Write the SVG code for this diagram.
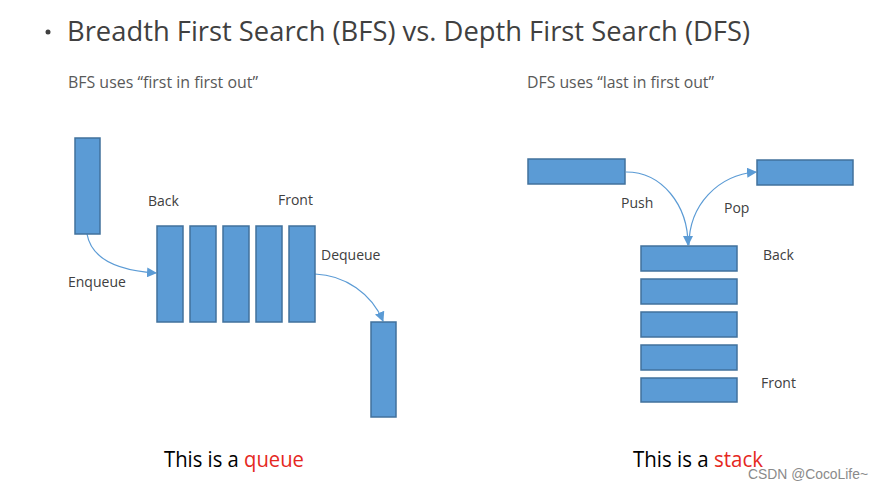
<svg xmlns="http://www.w3.org/2000/svg" width="882" height="490" viewBox="0 0 882 490">
<style>
.box{fill:#5B9BD5;stroke:#41719C;stroke-width:1.5}
.conn{fill:none;stroke:#5B9BD5;stroke-width:1.2}
.lbl{font-family:"Open Sans","Liberation Sans",sans-serif;font-size:14px;fill:#404040}
.sub{font-family:"Open Sans","Liberation Sans",sans-serif;font-size:16px;fill:#595959}
.big{font-family:"Open Sans","Liberation Sans",sans-serif;font-size:21px;fill:#000}
.red{fill:#E5281E}
</style>
<defs>
<marker id="ah" viewBox="0 0 10 10" refX="9" refY="5" markerWidth="10" markerHeight="10" markerUnits="userSpaceOnUse" orient="auto">
<path d="M0,0 L10,5 L0,10 z" fill="#5B9BD5"/>
</marker>
</defs>
<rect width="882" height="490" fill="#fff"/>
<g id="title">
<circle cx="48" cy="32" r="2.5" fill="#404040"/>
<text x="67" y="41" font-family="'Open Sans','Liberation Sans',sans-serif" font-size="27" fill="#404040" textLength="683" lengthAdjust="spacingAndGlyphs">Breadth First Search (BFS) vs. Depth First Search (DFS)</text>
</g>
<g id="subtitles">
<text class="sub" x="68" y="88" textLength="190" lengthAdjust="spacingAndGlyphs">BFS uses “first in first out”</text>
<text class="sub" x="527" y="88" textLength="187" lengthAdjust="spacingAndGlyphs">DFS uses “last in first out”</text>
</g>
<g id="connectors">
<path class="conn" d="M87,234 C92,262 125,271 156,273" marker-end="url(#ah)"/>
<path class="conn" d="M315,274 C345,275 372,294 383,321" marker-end="url(#ah)"/>
<path class="conn" d="M626,172 C662,172 688,205 688,245" marker-end="url(#ah)"/>
<path class="conn" d="M689,245 C689,205 718,175 756,172" marker-end="url(#ah)"/>
</g>
<g id="q-in"><rect class="box" x="75" y="138" width="25" height="96"/></g>
<g id="q1"><rect class="box" x="157" y="226" width="26" height="96"/></g>
<g id="q2"><rect class="box" x="190" y="226" width="26" height="96"/></g>
<g id="q3"><rect class="box" x="223" y="226" width="26" height="96"/></g>
<g id="q4"><rect class="box" x="256" y="226" width="26" height="96"/></g>
<g id="q5"><rect class="box" x="289" y="226" width="26" height="96"/></g>
<g id="q-out"><rect class="box" x="371" y="322" width="25" height="95"/></g>
<g id="queue-labels">
<text class="lbl" x="148" y="206">Back</text>
<text class="lbl" x="278" y="205">Front</text>
<text class="lbl" x="68" y="287">Enqueue</text>
<text class="lbl" x="321" y="260">Dequeue</text>
</g>
<g id="s-in"><rect class="box" x="528" y="159" width="97" height="25"/></g>
<g id="s-out"><rect class="box" x="757" y="160" width="96" height="25"/></g>
<g id="s1"><rect class="box" x="641" y="246" width="96" height="25"/></g>
<g id="s2"><rect class="box" x="641" y="279" width="96" height="25"/></g>
<g id="s3"><rect class="box" x="641" y="312" width="96" height="25"/></g>
<g id="s4"><rect class="box" x="641" y="345" width="96" height="25"/></g>
<g id="s5"><rect class="box" x="641" y="378" width="96" height="24"/></g>
<g id="stack-labels">
<text class="lbl" x="621" y="208">Push</text>
<text class="lbl" x="724" y="213">Pop</text>
<text class="lbl" x="763" y="260">Back</text>
<text class="lbl" x="761" y="388">Front</text>
</g>
<g id="captions">
<text class="big" x="164" y="467" textLength="140" lengthAdjust="spacingAndGlyphs">This is a <tspan class="red">queue</tspan></text>
<text class="big" x="633" y="467" textLength="130" lengthAdjust="spacingAndGlyphs">This is a <tspan class="red">stack</tspan></text>
</g>
<text x="748" y="479" font-family="'Liberation Sans',sans-serif" font-size="14" fill="#8a8a8a" textLength="120" lengthAdjust="spacingAndGlyphs">CSDN @CocoLife~</text>
</svg>
